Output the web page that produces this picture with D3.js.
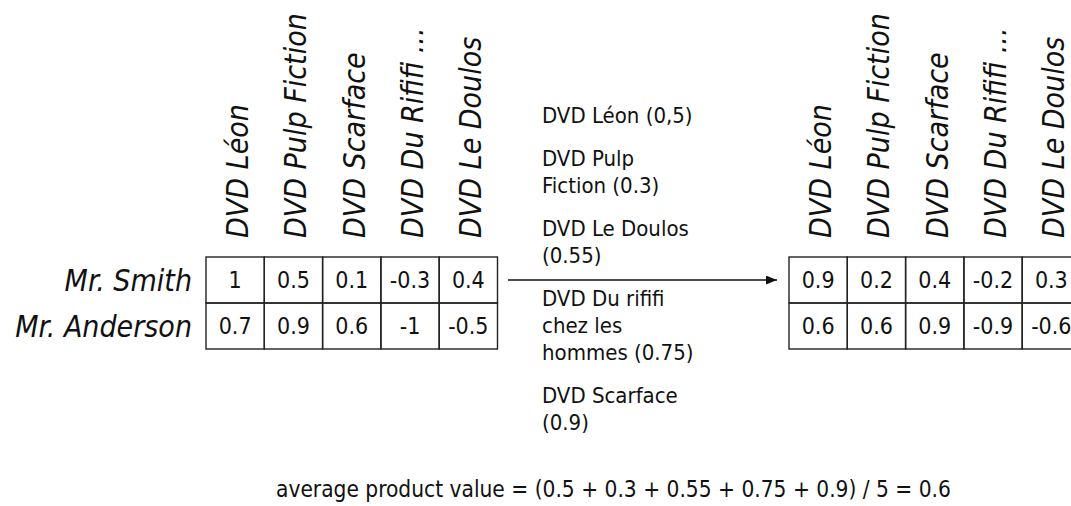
<!DOCTYPE html>
<html>
<head>
<meta charset="utf-8">
<script src="https://cdn.jsdelivr.net/npm/d3@7"></script>
<style>
  body { margin: 0; background: #fff; }
  text { font-family: "DejaVu Sans Condensed", "DejaVu Sans", sans-serif; fill: #111; }
</style>
</head>
<body>
<div id="chart"></div>
<script>
// products (column headers) and users (row labels)
const products = ["DVD Léon", "DVD Pulp Fiction", "DVD Scarface", "DVD Du Rififi ...", "DVD Le Doulos"];
const users = ["Mr. Smith", "Mr. Anderson"];

// ratings before / after
const smithBefore = [1, 0.5, 0.1, -0.3, 0.4];
const andersonBefore = [0.7, 0.9, 0.6, -1, -0.5];
const smithAfter = [0.9, 0.2, 0.4, -0.2, 0.3];
const andersonAfter = [0.6, 0.6, 0.9, -0.9, -0.6];

// product values listed in the middle
const valueNotes = [
  ["DVD Léon (0,5)"],
  ["DVD Pulp", "Fiction (0.3)"],
  ["DVD Le Doulos", "(0.55)"],
  ["DVD Du rififi", "chez les", "hommes (0.75)"],
  ["DVD Scarface", "(0.9)"]
];
const formula = "average product value = (0.5 + 0.3 + 0.55 + 0.75 + 0.9) / 5 = 0.6";

const width = 1071, height = 506;
const colW = 58.3, rowH = 46, tableTop = 257;

const svg = d3.select("#chart").append("svg")
  .attr("width", width)
  .attr("height", height)
  .attr("viewBox", [0, 0, width, height]);

// one table = header labels + grid of cells
function drawTable(left, rows, showUsers) {
  const x = d3.scaleBand().domain(products).range([left, left + colW * products.length]);
  const y = d3.scaleBand().domain(users).range([tableTop, tableTop + rowH * users.length]);
  const g = svg.append("g");

  // rotated italic headers
  g.selectAll("text.head")
    .data(products)
    .join("text")
      .attr("class", "head")
      .attr("transform", d => `translate(${x(d) + x.bandwidth() / 2 + 13},${tableTop - 19}) rotate(-90)`)
      .attr("font-size", 30)
      .attr("font-style", "italic")
      .text(d => d);

  if (showUsers) {
    g.selectAll("text.user")
      .data(users)
      .join("text")
        .attr("class", "user")
        .attr("x", left - 14)
        .attr("y", d => y(d) + y.bandwidth() / 2)
        .attr("dy", "0.36em")
        .attr("text-anchor", "end")
        .attr("font-size", 30)
        .attr("font-style", "italic")
        .text(d => d);
  }

  const cells = rows.flatMap((vals, i) => vals.map((v, j) => ({user: users[i], product: products[j], v})));

  g.selectAll("rect")
    .data(cells)
    .join("rect")
      .attr("x", d => x(d.product))
      .attr("y", d => y(d.user))
      .attr("width", x.bandwidth())
      .attr("height", y.bandwidth())
      .attr("fill", "none")
      .attr("stroke", "#222")
      .attr("stroke-width", 1.4);

  g.selectAll("text.cell")
    .data(cells)
    .join("text")
      .attr("class", "cell")
      .attr("x", d => x(d.product) + x.bandwidth() / 2)
      .attr("y", d => y(d.user) + y.bandwidth() / 2)
      .attr("dy", "0.36em")
      .attr("text-anchor", "middle")
      .attr("font-size", 23)
      .attr("fill", "#333")
      .text(d => String(d.v));

  return {x, y};
}

const left = drawTable(206, [smithBefore, andersonBefore], true);
const right = drawTable(789, [smithAfter, andersonAfter], false);

// arrow between tables
svg.append("defs").append("marker")
    .attr("id", "head")
    .attr("viewBox", "0 0 10 8")
    .attr("refX", 10).attr("refY", 4)
    .attr("markerWidth", 11).attr("markerHeight", 9)
    .attr("markerUnits", "userSpaceOnUse")
    .attr("orient", "auto")
  .append("path")
    .attr("d", "M0,0L10,4L0,8Z")
    .attr("fill", "#111");

const arrowY = left.y("Mr. Smith") + left.y.bandwidth() / 2;
svg.append("line")
  .attr("x1", 508).attr("x2", 777)
  .attr("y1", arrowY).attr("y2", arrowY)
  .attr("stroke", "#111")
  .attr("stroke-width", 1.4)
  .attr("marker-end", "url(#head)");

// list of product values
const lineH = 27, groupGap = 16;
let yy = 115;
const listG = svg.append("g");
valueNotes.forEach(group => {
  group.forEach(line => {
    listG.append("text")
      .attr("x", 542)
      .attr("y", yy)
      .attr("dy", "0.36em")
      .attr("font-size", 22)
      .attr("fill", "#333")
      .text(line);
    yy += lineH;
  });
  yy += groupGap;
});

svg.append("text")
  .attr("x", 276)
  .attr("y", 489)
  .attr("dy", "0.36em")
  .attr("font-size", 22.5)
  .attr("fill", "#333")
  .text(formula);
</script>
</body>
</html>
